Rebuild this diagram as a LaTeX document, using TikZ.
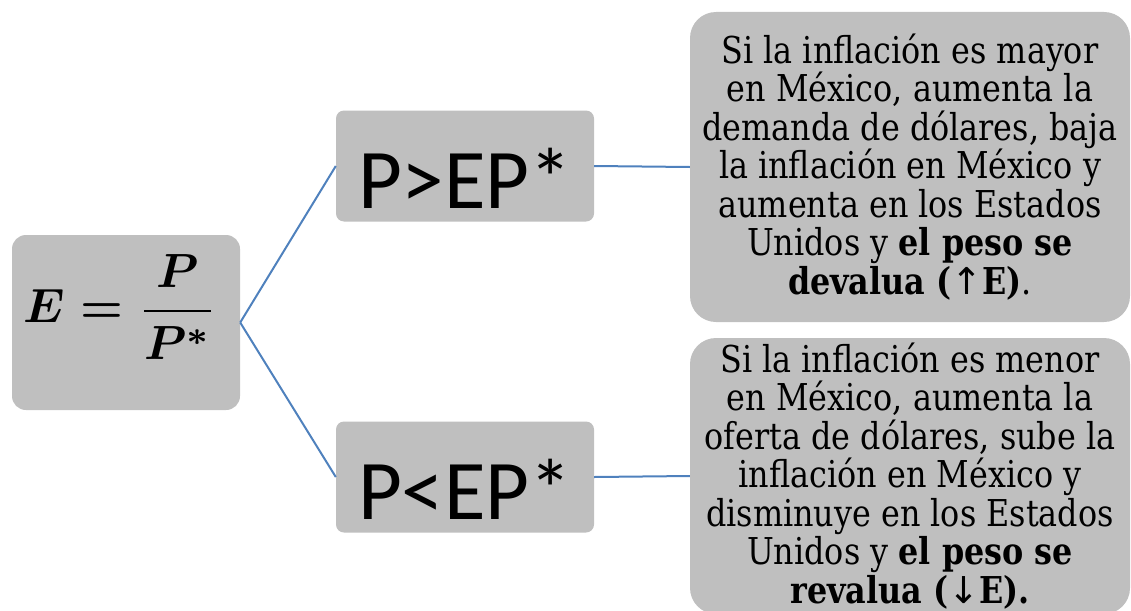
\documentclass[tikz,border=0pt]{standalone}
\usepackage{fontspec}
\usepackage{amsmath}
\usepackage{graphicx}
\setmainfont{DejaVu Serif}[FakeStretch=0.86]
\newfontfamily\labelfont{Carlito}
\newfontfamily\arrowfont{DejaVu Sans}
\usetikzlibrary{positioning}
\definecolor{boxgray}{HTML}{BFBFBF}
\definecolor{linkblue}{HTML}{4F81BD}

\begin{document}
\begin{tikzpicture}[x=1pt, y=-1pt,
                    box/.style={fill=boxgray, rounded corners=8pt, inner sep=0pt},
                    casebox/.style={box, minimum width=258pt, minimum height=111pt,
                        text height=85pt, text depth=0pt, font=\labelfont\fontsize{85}{90}\selectfont},
                    notebox/.style={box, rounded corners=26pt, minimum width=440pt, align=center,
                        font=\fontsize{37}{38.5}\selectfont},
                    link/.style={draw=linkblue, line width=2pt}
                    ]
\useasboundingbox (0,0) rectangle (1131,610);
\clip (0,0) rectangle (1131,610);

\node[box, rounded corners=14pt, minimum width=228pt, minimum height=175pt] (ratio) at (126,322.5) {\scalebox{4.8}{\boldmath$\displaystyle E=\frac{P}{P^{*}}$}\rule[-68pt]{0pt}{0pt}\hspace*{12pt}};

\node[casebox] (mayor) at (465,166) {P>EP*};
\node[casebox] (menor) at (465,477) {P<EP*};

\node[notebox, minimum height=310pt] (devalua) at (910,167) {Si la inflación es mayor\\en México, aumenta la\\demanda de dólares, baja\\la inflación en México y\\aumenta en los Estados\\Unidos y \textbf{el peso se}\\\textbf{devalua ({\arrowfont\mdseries ↑}E)}.};
\node[notebox, minimum height=276pt] (revalua) at (910,476) {Si la inflación es menor\\en México, aumenta la\\oferta de dólares, sube la\\inflación en México y\\disminuye en los Estados\\Unidos y \textbf{el peso se}\\\textbf{revalua ({\arrowfont\mdseries ↓}E).}};

% Connections
\draw[link] (ratio.east) -- (mayor.west);
\draw[link] (ratio.east) -- (menor.west);
\draw[link] (mayor.east) -- (devalua.west);
\draw[link] (menor.east) -- (revalua.west);

\end{tikzpicture}
\end{document}
